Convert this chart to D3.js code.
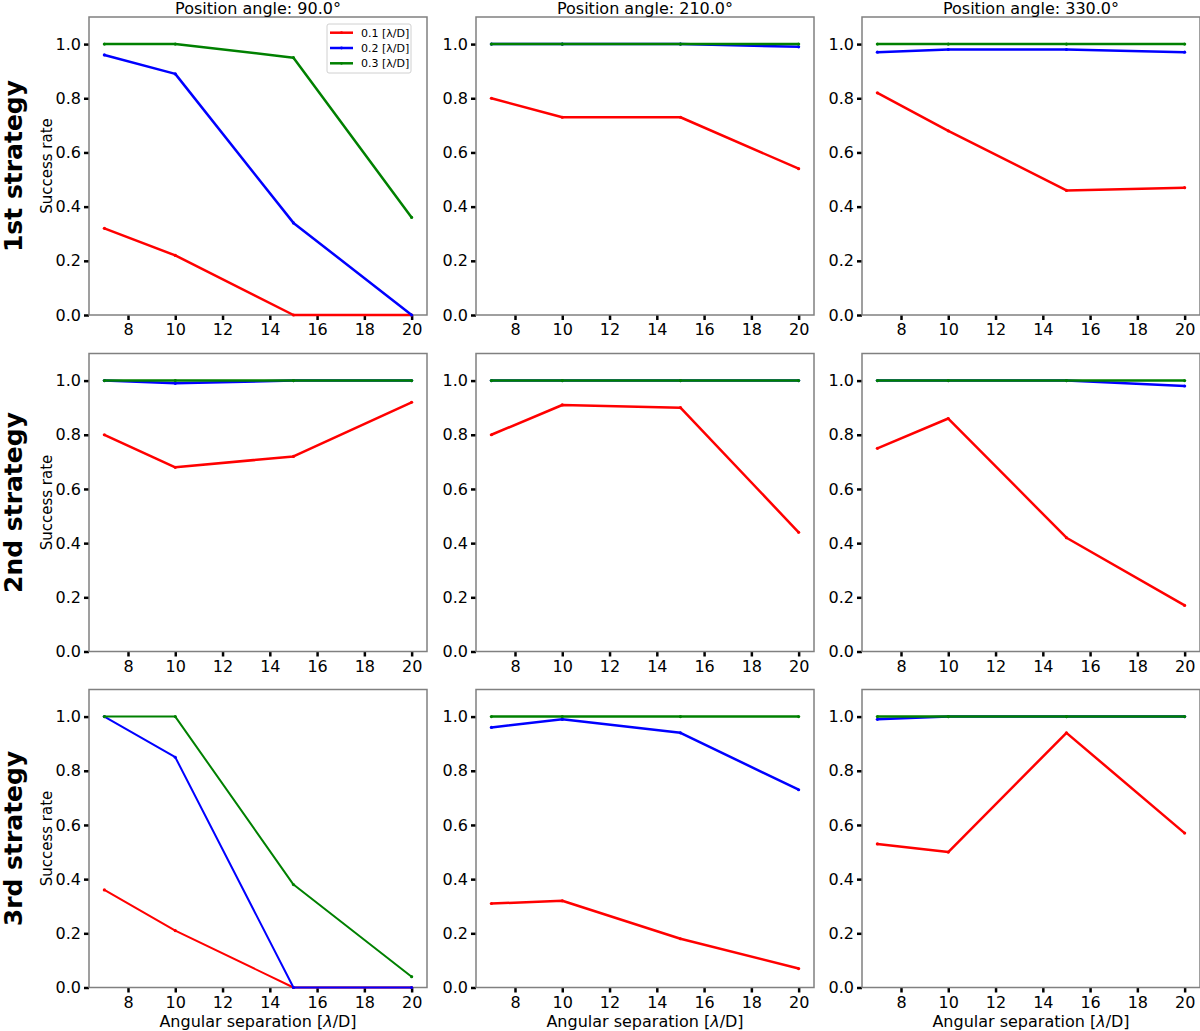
<!DOCTYPE html>
<html>
<head>
<meta charset="utf-8">
<script src="https://cdn.jsdelivr.net/npm/d3@7"></script>
<style>
  body { margin: 0; background: #fff; }
  text { font-family: "DejaVu Sans", sans-serif; }
</style>
</head>
<body>
<div id="chart"></div>
<script>
// separations (x) shared by every panel
var separations = [7, 10, 15, 20];
var angles = ["90.0", "210.0", "330.0"];
var strategies = ["1st strategy", "2nd strategy", "3rd strategy"];
var contrasts = ["0.1", "0.2", "0.3"];
var colors = ["#ff0000", "#0000ff", "#008000"];
var xTicks = [8, 10, 12, 14, 16, 18, 20];
var yTicks = [0, 0.2, 0.4, 0.6, 0.8, 1.0];

// success rates, one array per strategy row, per angle column, per contrast
var strategy1 = [
    [[0.32, 0.22, 0, 0], [0.96, 0.89, 0.34, 0], [1, 1, 0.95, 0.36]],
    [[0.80, 0.73, 0.73, 0.54], [1, 1, 1, 0.99], [1, 1, 1, 1]],
    [[0.82, 0.68, 0.46, 0.47], [0.97, 0.98, 0.98, 0.97], [1, 1, 1, 1]]
];
var strategy2 = [
    [[0.80, 0.68, 0.72, 0.92], [1, 0.99, 1, 1], [1, 1, 1, 1]],
    [[0.80, 0.91, 0.90, 0.44], [1, 1, 1, 1], [1, 1, 1, 1]],
    [[0.75, 0.86, 0.42, 0.17], [1, 1, 1, 0.98], [1, 1, 1, 1]]
];
var strategy3 = [
    [[0.36, 0.21, 0, 0], [1, 0.85, 0, 0], [1, 1, 0.38, 0.04]],
    [[0.31, 0.32, 0.18, 0.07], [0.96, 0.99, 0.94, 0.73], [1, 1, 1, 1]],
    [[0.53, 0.50, 0.94, 0.57], [0.99, 1, 1, 1], [1, 1, 1, 1]]
];
var rows = [strategy1, strategy2, strategy3];

var width = 1200,
    height = 1031,
    colLeft = [89, 476, 862],
    rowTop = [17, 353.5, 689.5],
    pw = 338,
    ph = 298;

var svg = d3.select("#chart").append("svg")
    .attr("width", width)
    .attr("height", height);

var x = d3.scaleLinear().domain([6.35, 20.65]).range([0, pw]);
var y = d3.scaleLinear().domain([0, 1.1]).range([ph, 0]);

var line = d3.line()
    .x(function (d, i) { return x(separations[i]); })
    .y(function (d) { return y(d); });

rows.forEach(function (row, r) {
    row.forEach(function (panel, c) {
        var g = svg.append("g")
            .attr("transform", "translate(" + colLeft[c] + "," + rowTop[r] + ")");

        var xAxis = g.append("g")
            .attr("transform", "translate(0," + ph + ")")
            .call(d3.axisBottom(x).tickValues(xTicks).tickSize(5).tickPadding(4).tickFormat(d3.format("d")));
        var yAxis = g.append("g")
            .call(d3.axisLeft(y).tickValues(yTicks).tickSize(5).tickPadding(3).tickFormat(d3.format(".1f")));
        [xAxis, yAxis].forEach(function (a) {
            a.select(".domain").remove();
            a.selectAll(".tick line").attr("stroke", "#000").attr("stroke-width", 2.5);
            a.selectAll(".tick text")
                .attr("fill", "#000")
                .style("font-size", "16px")
                .style("font-family", "DejaVu Sans, sans-serif");
        });

        // frame
        g.append("rect")
            .attr("width", pw).attr("height", ph)
            .attr("fill", "none")
            .attr("stroke", "#808080")
            .attr("stroke-width", 1.5);

        var lw = (r === 2 && c === 0) ? 2 : 2.5;
        panel.forEach(function (vals, k) {
            g.append("path")
                .datum(vals)
                .attr("d", line)
                .attr("fill", "none")
                .attr("stroke", colors[k])
                .attr("stroke-width", lw)
                .attr("stroke-linejoin", "round");
            g.selectAll(null)
                .data(vals)
                .enter().append("circle")
                .attr("cx", function (d, i) { return x(separations[i]); })
                .attr("cy", function (d) { return y(d); })
                .attr("r", 1.6)
                .attr("fill", colors[k]);
        });

        if (r === 0) {
            svg.append("text")
                .attr("x", colLeft[c] + pw / 2)
                .attr("y", 14)
                .attr("text-anchor", "middle")
                .style("font-size", "16px")
                .text("Position angle: " + angles[c] + "°");
        }
        if (r === 2) {
            var xl = svg.append("text")
                .attr("x", colLeft[c] + pw / 2)
                .attr("y", 1027)
                .attr("text-anchor", "middle")
                .style("font-size", "16px");
            xl.append("tspan").text("Angular separation [");
            xl.append("tspan").style("font-style", "italic").text("λ");
            xl.append("tspan").text("/D]");
        }
        if (c === 0) {
            var cy = rowTop[r] + ph / 2;
            svg.append("text")
                .attr("transform", "translate(52," + cy + ") rotate(-90)")
                .attr("text-anchor", "middle")
                .style("font-size", "15px")
                .text("Success rate");
            svg.append("text")
                .attr("transform", "translate(22," + cy + ") rotate(-90)")
                .attr("text-anchor", "middle")
                .style("font-size", "25px")
                .style("font-weight", "bold")
                .text(strategies[r]);
        }
        if (r === 0 && c === 0) {
            var lg = g.append("g").attr("transform", "translate(238,7)");
            lg.append("rect")
                .attr("width", 84).attr("height", 49)
                .attr("rx", 2)
                .attr("fill", "#fff")
                .attr("stroke", "#d0d0d0")
                .attr("stroke-width", 1);
            contrasts.forEach(function (lab, k) {
                var yy = 8.7 + k * 15.3;
                lg.append("line")
                    .attr("x1", 3).attr("x2", 26)
                    .attr("y1", yy).attr("y2", yy)
                    .attr("stroke", colors[k])
                    .attr("stroke-width", 2.5);
                lg.append("circle").attr("cx", 14.5).attr("cy", yy).attr("r", 1.4).attr("fill", colors[k]);
                lg.append("text")
                    .attr("x", 34).attr("y", yy + 4)
                    .style("font-size", "11px")
                    .text(lab + " [λ/D]");
            });
        }
    });
});
</script>
</body>
</html>
